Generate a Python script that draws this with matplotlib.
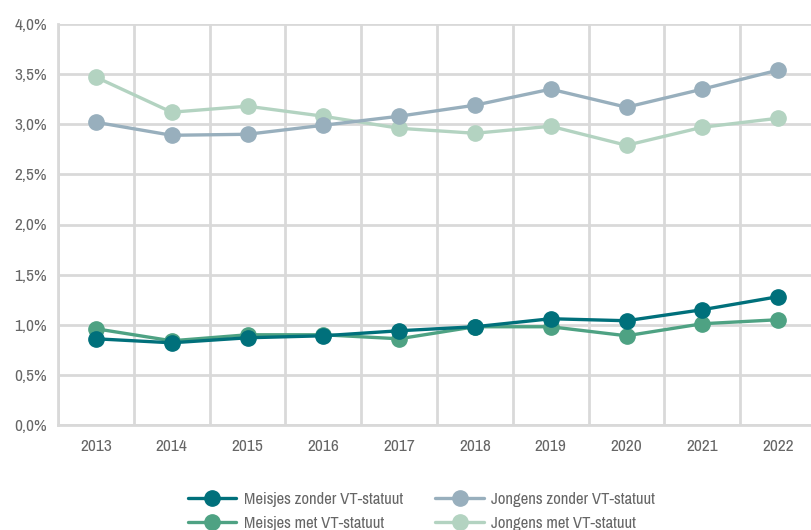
import matplotlib
matplotlib.use("Agg")
import matplotlib.pyplot as plt
from matplotlib import font_manager
from matplotlib.ticker import FuncFormatter

years = ["2013", "2014", "2015", "2016", "2017", "2018", "2019", "2020", "2021", "2022"]
meisjes_zonder = [0.86, 0.82, 0.87, 0.89, 0.94, 0.98, 1.06, 1.04, 1.15, 1.28]
meisjes_met = [0.96, 0.84, 0.90, 0.90, 0.86, 0.98, 0.98, 0.89, 1.01, 1.05]
jongens_zonder = [3.02, 2.89, 2.90, 2.99, 3.08, 3.19, 3.35, 3.17, 3.35, 3.54]
jongens_met = [3.47, 3.12, 3.18, 3.08, 2.96, 2.91, 2.98, 2.79, 2.97, 3.06]

# the original uses a narrow font, pick the most condensed regular face around
rank = {"ultra-condensed": 0, "extra-condensed": 1, "condensed": 2, "semi-condensed": 3}
cands = []
for f in font_manager.fontManager.ttflist:
    if f.style != "normal" or f.weight not in (400, "normal", "regular"):
        continue
    st = f.stretch if f.stretch in rank else None
    if st is None and ("Condensed" in f.name or "Narrow" in f.name):
        st = "condensed"
    if st is None:
        continue
    if "Italic" in f.fname or "Bold" in f.fname or "Light" in f.fname:
        continue
    cands.append((rank[st], f.name, f))
cands.sort(key=lambda c: (c[0], c[1]))
if cands:
    fe = cands[0][2]
    family, stretch = fe.name, fe.stretch
    fs, lfs = 12.5, 12
else:
    family, stretch = "Roboto", "normal"
    fs, lfs = 11, 10.5
plt.rcParams["font.family"] = [family, "DejaVu Sans"]
plt.rcParams["font.stretch"] = stretch

text_col = "#666666"
grid_col = "#d9d9d9"

fig = plt.figure(figsize=(8.11, 5.30), dpi=100)
ax = fig.add_axes([58 / 811, 105 / 530, 758 / 811, 401 / 530])

x = list(range(len(years)))
series = [
    ("Jongens met VT-statuut", jongens_met, "#b3d3c1", 2),
    ("Jongens zonder VT-statuut", jongens_zonder, "#98afbd", 3),
    ("Meisjes met VT-statuut", meisjes_met, "#4ea283", 4),
    ("Meisjes zonder VT-statuut", meisjes_zonder, "#00707b", 5),
]
lines = {}
for label, vals, col, z in series:
    (ln,) = ax.plot(x, vals, color=col, lw=2.4, marker="o", markersize=11,
                    label=label, zorder=z, solid_capstyle="round")
    lines[label] = ln

ax.set_xlim(-0.5, len(years) - 0.5)
ax.set_ylim(0, 4.0)
ax.set_yticks([i * 0.5 for i in range(9)])
ax.yaxis.set_major_formatter(FuncFormatter(lambda v, p: f"{v:.1f}%".replace(".", ",")))
ax.set_xticks(x)
ax.set_xticklabels(years)
ax.set_xticks([i - 0.5 for i in range(len(years) + 1)], minor=True)

ax.grid(False)
ax.yaxis.grid(True, which="major", color=grid_col, lw=2, zorder=0)
ax.xaxis.grid(True, which="minor", color=grid_col, lw=2, zorder=0)
ax.set_axisbelow(True)
for s in ["top", "right"]:
    ax.spines[s].set_visible(False)
for s in ["left", "bottom"]:
    ax.spines[s].set_color(grid_col)
    ax.spines[s].set_linewidth(2)

ax.tick_params(axis="both", which="both", length=0, colors=text_col, labelsize=fs)
ax.tick_params(axis="x", pad=10)
ax.tick_params(axis="y", pad=8)

order = ["Meisjes zonder VT-statuut", "Meisjes met VT-statuut",
         "Jongens zonder VT-statuut", "Jongens met VT-statuut"]
leg = fig.legend([lines[k] for k in order], order, ncol=2, loc="upper left",
                 bbox_to_anchor=(188 / 811, 1 - 492 / 530), frameon=False,
                 fontsize=lfs, handlelength=2.9, columnspacing=1.95,
                 labelspacing=0.55, handletextpad=0.45, borderaxespad=0,
                 borderpad=0)
for t in leg.get_texts():
    t.set_color(text_col)

fig.savefig("out.png", dpi=100)
